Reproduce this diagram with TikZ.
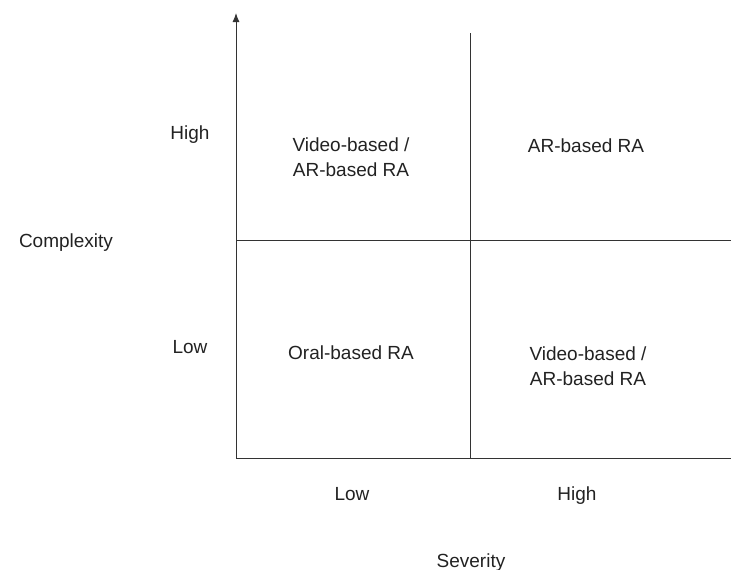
\documentclass[tikz,border=0pt]{standalone}
\usepackage{fontspec}
\setmainfont{Liberation Sans}
\usetikzlibrary{arrows.meta}
\definecolor{quadcolor0001}{RGB}{51,51,51}
\definecolor{quadcolor0002}{RGB}{34,34,34}

\begin{document}
\begin{tikzpicture}[yscale=-1
                ,pstyle1/.style={color=quadcolor0001,line width=1.0pt}
                ,pstyle2/.style={color=quadcolor0001,line width=1.0pt,-{Latex[length=9pt,width=7pt]}}
                ,tstyle1/.style={color=quadcolor0002,font=\fontsize{19}{25}\selectfont,align=center,inner sep=0pt}
            ]
            \useasboundingbox (0pt,0pt) rectangle (731pt,570pt);
            \coordinate (origin) at (236pt,458pt);
            \coordinate (ytop) at (236pt,13pt);
            \coordinate (xend) at (731pt,458pt);
            \coordinate (vtop) at (470pt,33pt);
            \coordinate (vbot) at (470pt,458pt);
            \coordinate (hleft) at (236pt,240pt);
            \coordinate (hright) at (731pt,240pt);
            \draw[pstyle2] (origin) -- (ytop);
            \draw[pstyle1] (origin) -- (xend);
            \draw[pstyle1] (vtop) -- (vbot);
            \draw[pstyle1] (hleft) -- (hright);
            \node[tstyle1,anchor=base] (yhigh) at (190pt,139pt) {High};
            \node[tstyle1,anchor=base] (ylow) at (190pt,353pt) {Low};
            \node[tstyle1,anchor=base] (ylabel) at (66pt,247pt) {Complexity};
            \node[tstyle1,anchor=base] (xlow) at (352pt,500pt) {Low};
            \node[tstyle1,anchor=base] (xhigh) at (577pt,500pt) {High};
            \node[tstyle1,anchor=base] (xlabel) at (471pt,567pt) {Severity};
            \node[tstyle1] (quadtl) at (351pt,157pt) {Video-based /\\AR-based RA};
            \node[tstyle1,anchor=base] (quadtr) at (586pt,152pt) {AR-based RA};
            \node[tstyle1,anchor=base] (quadbl) at (351pt,359pt) {Oral-based RA};
            \node[tstyle1] (quadbr) at (588pt,366pt) {Video-based /\\AR-based RA};
        \end{tikzpicture}
\end{document}
